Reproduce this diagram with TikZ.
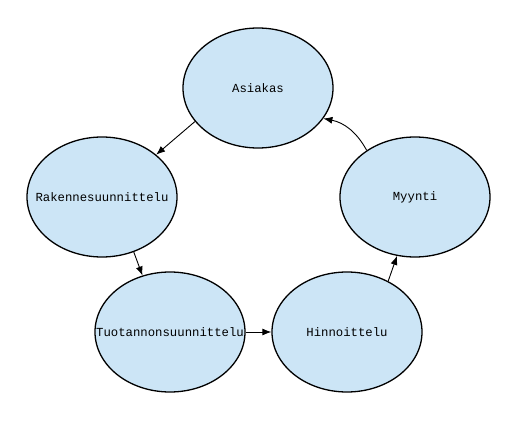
\documentclass[tikz,border=0pt]{standalone}
\usepackage{fontspec}
\setmonofont{Liberation Mono}
\usepackage{xcolor}
\usepackage{tikz}
\usetikzlibrary{arrows.meta,shapes.geometric}
\definecolor{vaalea}{RGB}{204,229,246}
\newcommand{\vaiheteksti}[1]{\makebox[0pt]{#1}}
\tikzset{
  vaihe/.style={ellipse, draw=black, fill=vaalea, line width=1.3pt,
                minimum width=150pt, minimum height=120pt, inner sep=0pt,
                font=\fontsize{12.3}{14}\selectfont\ttfamily},
  nuoli/.style={-{Latex[length=9pt,width=7pt]}, line width=0.9pt}
}

\begin{document}
\begin{tikzpicture}[x=1pt, y=-1pt]
  \useasboundingbox (0,0) rectangle (517,422);
  \node[vaihe] (asiakas) at (258,88) {\vaiheteksti{Asiakas}};
  \node[vaihe] (rakenne) at (102,197) {\vaiheteksti{Rakennesuunnittelu}};
  \node[vaihe] (tuotanto) at (170,332) {\vaiheteksti{Tuotannonsuunnittelu}};
  \node[vaihe] (hinta) at (347,332) {\vaiheteksti{Hinnoittelu}};
  \node[vaihe] (myynti) at (415,197) {\vaiheteksti{Myynti}};
  \draw[nuoli] (asiakas.208) -- (rakenne.38);
  \draw[nuoli] (rakenne.-60) -- (tuotanto.116);
  \draw[nuoli] (tuotanto.east) -- (hinta.west);
  \draw[nuoli] (hinta.51) -- (myynti.253);
  \draw[nuoli] (myynti.136) to[bend right=25] (asiakas.335);
\end{tikzpicture}
\end{document}
